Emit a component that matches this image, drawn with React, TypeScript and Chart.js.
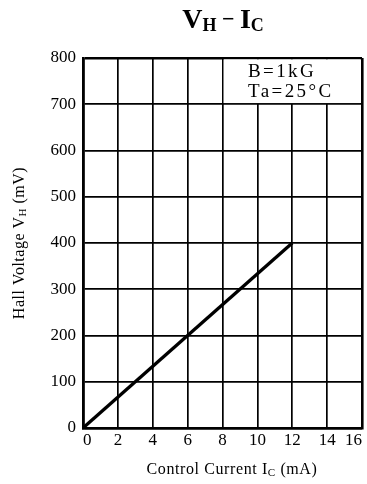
import React, { useEffect, useRef } from "react";
import { Chart, registerables } from "chart.js";

Chart.register(...registerables);

const currentMA = [0, 12];
const hallVoltageMV = [0, 400];
const xMin = 0;
const xMax = 16;
const xStep = 2;
const yMin = 0;
const yMax = 800;
const yStep = 100;
const conditionLines = ["B=1kG", "Ta=25°C"];

const SERIF = "'Liberation Serif', 'DejaVu Serif', serif";

function drawSubText(
  ctx: CanvasRenderingContext2D,
  parts: { t: string; size: number; dy: number; bold?: boolean }[],
  x: number,
  y: number,
  align: "left" | "center",
  spacing = 0
) {
  (ctx as any).letterSpacing = `${spacing}px`;
  let total = 0;
  for (const p of parts) {
    ctx.font = `${p.bold ? "bold " : ""}${p.size}px ${SERIF}`;
    total += ctx.measureText(p.t).width;
  }
  let cx = align === "center" ? x - total / 2 : x;
  ctx.textAlign = "left";
  ctx.textBaseline = "alphabetic";
  for (const p of parts) {
    ctx.font = `${p.bold ? "bold " : ""}${p.size}px ${SERIF}`;
    ctx.fillText(p.t, cx, y + p.dy);
    cx += ctx.measureText(p.t).width;
  }
  (ctx as any).letterSpacing = "0px";
}

const decorPlugin = {
  id: "decor",
  afterDraw(chart: any) {
    const ctx: CanvasRenderingContext2D = chart.ctx;
    const xs = chart.scales.x;
    const ys = chart.scales.y;
    ctx.save();
    ctx.fillStyle = "#000";
    // title
    drawSubText(
      ctx,
      [
        { t: "V", size: 28, dy: 0, bold: true },
        { t: "H", size: 18, dy: 3, bold: true },
        { t: " − ", size: 22, dy: -2, bold: true },
        { t: "I", size: 28, dy: 0, bold: true },
        { t: "C", size: 18, dy: 3, bold: true },
      ],
      223,
      28,
      "center"
    );
    // x title
    drawSubText(
      ctx,
      [
        { t: "Control Current I", size: 16, dy: 0 },
        { t: "C", size: 11, dy: 2 },
        { t: " (mA)", size: 16, dy: 0 },
      ],
      232,
      474,
      "center",
      0.6
    );
    // y title
    ctx.save();
    ctx.translate(24, (chart.chartArea.top + chart.chartArea.bottom) / 2);
    ctx.rotate(-Math.PI / 2);
    drawSubText(
      ctx,
      [
        { t: "Hall Voltage V", size: 16, dy: 0 },
        { t: "H", size: 11, dy: 2 },
        { t: " (mV)", size: 16, dy: 0 },
      ],
      0,
      0,
      "center",
      0.5
    );
    ctx.restore();
    // condition box
    const bx0 = xs.getPixelForValue(8) + 1.2;
    const bx1 = xs.getPixelForValue(16) - 1.4;
    const by0 = ys.getPixelForValue(800) + 1.4;
    const by1 = ys.getPixelForValue(700) - 1.2;
    ctx.fillStyle = "#fff";
    ctx.fillRect(bx0, by0, bx1 - bx0, by1 - by0);
    ctx.fillStyle = "#000";
    ctx.font = `19px ${SERIF}`;
    (ctx as any).letterSpacing = "2.4px";
    ctx.textAlign = "left";
    ctx.textBaseline = "alphabetic";
    ctx.fillText(conditionLines[0], 248, 77);
    ctx.fillText(conditionLines[1], 248, 97);
    (ctx as any).letterSpacing = "0px";
    ctx.restore();
  },
};

export default function App() {
  const ref = useRef<HTMLCanvasElement | null>(null);
  useEffect(() => {
    document.body.style.margin = "0";
    document.body.style.background = "#fff";
    const canvas = ref.current!;
    const chart = new Chart(canvas, {
      type: "line",
      data: {
        datasets: [
          {
            data: currentMA.map((x, i) => ({ x, y: hallVoltageMV[i] })),
            borderColor: "#000",
            borderWidth: 3.3,
            pointRadius: 0,
            fill: false,
            tension: 0,
          },
        ],
      },
      options: {
        animation: false,
        responsive: false,
        maintainAspectRatio: false,
        layout: { padding: { top: 58, right: 5, left: 0, bottom: 0 } },
        plugins: {
          legend: { display: false },
          title: { display: false },
          tooltip: { enabled: false },
        },
        scales: {
          x: {
            type: "linear",
            min: xMin,
            max: xMax,
            afterFit(scale: any) {
              scale.height = 56;
              scale.paddingLeft = 0;
              scale.paddingRight = 0;
            },
            ticks: {
              stepSize: xStep,
              color: "#000",
              padding: 2,
              align: "inner",
              font: { family: SERIF, size: 17 },
            },
            grid: {
              color: "#000",
              drawTicks: false,
              lineWidth: (c: any) =>
                c.tick && (c.tick.value === xMax || c.tick.value === xMin) ? 2.6 : 1.7,
            },
            border: { display: true, color: "#000", width: 2.6 },
          },
          y: {
            type: "linear",
            min: yMin,
            max: yMax,
            afterFit(scale: any) {
              scale.width = 83;
              scale.paddingTop = 0;
              scale.paddingBottom = 0;
            },
            ticks: {
              stepSize: yStep,
              color: "#000",
              padding: 7,
              font: { family: SERIF, size: 17 },
            },
            grid: {
              color: "#000",
              drawTicks: false,
              lineWidth: (c: any) =>
                c.tick && (c.tick.value === yMax || c.tick.value === yMin) ? 2.6 : 1.7,
            },
            border: { display: true, color: "#000", width: 2.6 },
          },
        },
      },
      plugins: [decorPlugin],
    });
    return () => chart.destroy();
  }, []);
  return (
    <canvas
      ref={ref}
      width={367}
      height={484}
      style={{ display: "block", width: 367, height: 484 }}
    />
  );
}
